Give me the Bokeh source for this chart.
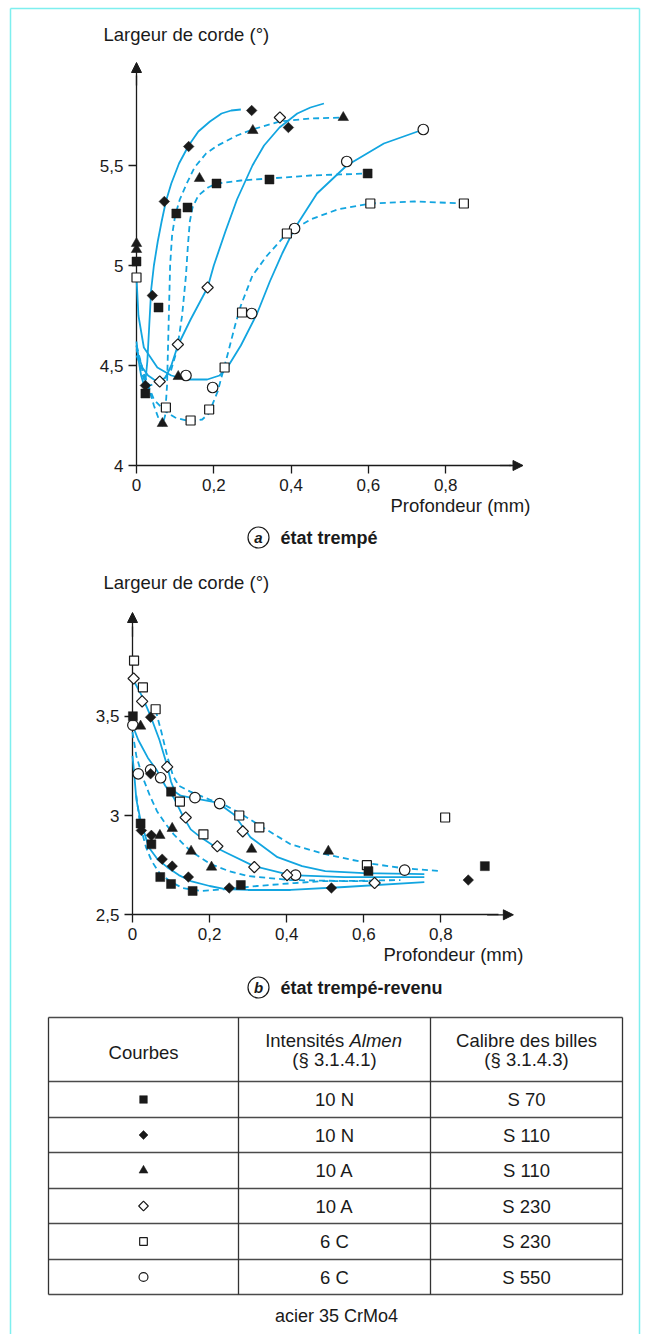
import math
from bokeh.plotting import figure
from bokeh.models import Range1d, LinearAxis, FixedTicker, Arrow, NormalHead, Label
from bokeh.core.properties import value
from bokeh.embed import file_html
from bokeh.resources import INLINE

W, H = 651, 1334
BLUE = "#12A5E0"
INK = "#1a1a1a"
FONT = "Liberation Sans"

# ---------------- (a) état trempé : markers ----------------
a_sq_x = [0, 0.023, 0.057, 0.103, 0.132, 0.207, 0.344, 0.598]
a_sq_y = [5.02, 4.36, 4.79, 5.26, 5.29, 5.41, 5.43, 5.46]
a_di_x = [0.023, 0.041, 0.072, 0.135, 0.298, 0.393]
a_di_y = [4.40, 4.85, 5.32, 5.595, 5.775, 5.69]
a_tr_x = [0, 0, 0.067, 0.108, 0.163, 0.301, 0.535]
a_tr_y = [5.11, 5.08, 4.21, 4.445, 5.435, 5.675, 5.74]
a_od_x = [0.06, 0.107, 0.184, 0.371]
a_od_y = [4.42, 4.605, 4.89, 5.74]
a_os_x = [0, 0.076, 0.14, 0.188, 0.228, 0.273, 0.389, 0.605, 0.847]
a_os_y = [4.94, 4.29, 4.225, 4.28, 4.49, 4.765, 5.16, 5.31, 5.31]
a_oc_x = [0.128, 0.197, 0.298, 0.409, 0.544, 0.742]
a_oc_y = [4.45, 4.39, 4.76, 5.185, 5.52, 5.68]

# ---------------- (a) curves ----------------
a_c_sq_x = [0, 0.01, 0.022, 0.035, 0.05, 0.07, 0.09, 0.105, 0.118, 0.128, 0.133, 0.138, 0.145, 0.16, 0.185, 0.207, 0.27, 0.344, 0.45, 0.6]
a_c_sq_y = [4.6, 4.48, 4.42, 4.4, 4.41, 4.43, 4.48, 4.58, 4.75, 4.95, 5.1, 5.22, 5.29, 5.35, 5.39, 5.41, 5.425, 5.435, 5.45, 5.46]
a_c_di_x = [0, 0.006, 0.012, 0.018, 0.023, 0.028, 0.033, 0.038, 0.045, 0.055, 0.065, 0.076, 0.09, 0.11, 0.135, 0.16, 0.19, 0.22, 0.245, 0.27]
a_c_di_y = [4.62, 4.52, 4.45, 4.41, 4.42, 4.52, 4.7, 4.88, 5.0, 5.12, 5.22, 5.32, 5.41, 5.51, 5.6, 5.67, 5.72, 5.76, 5.775, 5.78]
a_c_tr_x = [0, 0.015, 0.03, 0.045, 0.058, 0.067, 0.074, 0.079, 0.083, 0.087, 0.092, 0.1, 0.112, 0.13, 0.15, 0.18, 0.21, 0.26, 0.3, 0.37, 0.45, 0.535]
a_c_tr_y = [4.55, 4.48, 4.4, 4.3, 4.23, 4.2, 4.25, 4.4, 4.7, 5.0, 5.15, 5.25, 5.33, 5.41, 5.49, 5.56, 5.6, 5.65, 5.68, 5.72, 5.735, 5.74]
a_c_od_x = [0, 0.015, 0.03, 0.045, 0.06, 0.075, 0.09, 0.107, 0.14, 0.184, 0.2, 0.23, 0.26, 0.3, 0.33, 0.37, 0.416, 0.45, 0.485]
a_c_od_y = [4.58, 4.49, 4.45, 4.43, 4.42, 4.44, 4.5, 4.6, 4.73, 4.89, 5.0, 5.17, 5.33, 5.5, 5.6, 5.69, 5.76, 5.79, 5.81]
a_c_os_x = [0, 0.02, 0.045, 0.075, 0.1, 0.14, 0.17, 0.187, 0.21, 0.235, 0.255, 0.27, 0.3, 0.338, 0.389, 0.45, 0.52, 0.605, 0.72, 0.847]
a_c_os_y = [4.6, 4.45, 4.33, 4.27, 4.24, 4.22, 4.23, 4.26, 4.37, 4.55, 4.7, 4.8, 4.95, 5.05, 5.16, 5.23, 5.28, 5.31, 5.32, 5.31]
a_c_oc_x = [0, 0.005, 0.019, 0.054, 0.09, 0.131, 0.183, 0.215, 0.235, 0.27, 0.312, 0.345, 0.377, 0.409, 0.467, 0.544, 0.64, 0.742]
a_c_oc_y = [4.94, 4.75, 4.59, 4.49, 4.45, 4.43, 4.43, 4.45, 4.49, 4.6, 4.76, 4.92, 5.06, 5.185, 5.36, 5.5, 5.61, 5.68]

# ---------------- (b) état trempé-revenu : markers ----------------
b_sq_x = [0.001, 0.021, 0.049, 0.072, 0.1, 0.1, 0.156, 0.281, 0.612, 0.914]
b_sq_y = [3.50, 2.96, 2.855, 2.69, 2.655, 3.12, 2.62, 2.65, 2.72, 2.745]
b_di_x = [0.047, 0.047, 0.023, 0.049, 0.077, 0.103, 0.145, 0.251, 0.516, 0.871]
b_di_y = [3.495, 3.21, 2.925, 2.90, 2.78, 2.745, 2.69, 2.635, 2.635, 2.675]
b_tr_x = [0.021, 0.071, 0.103, 0.152, 0.205, 0.309, 0.508]
b_tr_y = [3.45, 2.90, 2.935, 2.82, 2.74, 2.83, 2.82]
b_od_x = [0.003, 0.025, 0.09, 0.138, 0.22, 0.286, 0.316, 0.401, 0.628]
b_od_y = [3.69, 3.575, 3.245, 2.99, 2.845, 2.92, 2.74, 2.70, 2.66]
b_os_x = [0.004, 0.027, 0.06, 0.123, 0.184, 0.277, 0.329, 0.608, 0.811]
b_os_y = [3.78, 3.645, 3.535, 3.07, 2.905, 3.0, 2.94, 2.75, 2.99]
b_oc_x = [0.001, 0.015, 0.047, 0.073, 0.162, 0.226, 0.423, 0.706]
b_oc_y = [3.455, 3.21, 3.23, 3.19, 3.09, 3.06, 2.70, 2.725]

# ---------------- (b) curves ----------------
b_c1_x = [0.06, 0.075, 0.09, 0.105, 0.12, 0.15, 0.2, 0.237, 0.28, 0.33, 0.41, 0.5, 0.61, 0.7, 0.8]
b_c1_y = [3.53, 3.42, 3.3, 3.2, 3.15, 3.12, 3.08, 3.055, 3.01, 2.95, 2.855, 2.805, 2.76, 2.735, 2.72]
b_c2_x = [0, 0.025, 0.047, 0.07, 0.09, 0.1, 0.11, 0.125, 0.151, 0.22, 0.263, 0.306, 0.376, 0.44, 0.5, 0.6, 0.757]
b_c2_y = [3.69, 3.6, 3.5, 3.38, 3.25, 3.17, 3.12, 3.1, 3.09, 3.065, 3.005, 2.89, 2.79, 2.745, 2.72, 2.71, 2.705]
b_c3_x = [0, 0.015, 0.04, 0.064, 0.085, 0.107, 0.13, 0.151, 0.177, 0.22, 0.246, 0.315, 0.41, 0.55, 0.757]
b_c3_y = [3.455, 3.38, 3.29, 3.225, 3.15, 3.09, 3.0, 2.93, 2.89, 2.835, 2.81, 2.745, 2.7, 2.69, 2.69]
b_c4_x = [0, 0.01, 0.025, 0.045, 0.064, 0.085, 0.107, 0.13, 0.151, 0.203, 0.25, 0.3, 0.41, 0.55, 0.695]
b_c4_y = [3.42, 3.3, 3.2, 3.1, 3.02, 2.96, 2.905, 2.86, 2.82, 2.755, 2.72, 2.695, 2.675, 2.67, 2.675]
b_c5_x = [0.01, 0.02, 0.035, 0.05, 0.07, 0.1, 0.13, 0.177, 0.25, 0.323, 0.42, 0.497, 0.63]
b_c5_y = [3.1, 2.95, 2.84, 2.77, 2.71, 2.665, 2.635, 2.62, 2.63, 2.645, 2.66, 2.67, 2.67]
b_c6_x = [0, 0.004, 0.01, 0.021, 0.042, 0.065, 0.09, 0.12, 0.151, 0.2, 0.237, 0.3, 0.41, 0.55, 0.757]
b_c6_y = [3.3, 3.22, 3.08, 2.975, 2.84, 2.78, 2.74, 2.7, 2.67, 2.645, 2.63, 2.625, 2.625, 2.64, 2.665]

# ---------------- ticks ----------------
a_xticks = [0, 0.2, 0.4, 0.6, 0.8]
a_xlabels = ["0", "0,2", "0,4", "0,6", "0,8"]
a_yticks = [4, 4.5, 5, 5.5]
a_ylabels = ["4", "4,5", "5", "5,5"]
b_xticks = [0, 0.2, 0.4, 0.6, 0.8]
b_xlabels = ["0", "0,2", "0,4", "0,6", "0,8"]
b_yticks = [2.5, 3, 3.5]
b_ylabels = ["2,5", "3", "3,5"]

# ---------------- table ----------------
courbes = ["sq", "di", "tr", "od", "os", "oc"]
intensites = ["10 N", "10 N", "10 A", "10 A", "6 C", "6 C"]
calibres = ["S 70", "S 110", "S 110", "S 230", "S 230", "S 550"]

# ======================================================
p = figure(width=W, height=H, output_backend="svg", toolbar_location=None,
           min_border=0, min_border_left=0, min_border_right=0,
           min_border_top=0, min_border_bottom=0,
           x_range=Range1d(-136 / 386.5, (W - 136) / 386.5),
           y_range=Range1d(4 - (H - 465) / 200.0, 4 + 465 / 200.0))
p.extra_x_ranges = {"bx": Range1d(-132 / 385.5, (W - 132) / 385.5), "pgx": Range1d(0, W)}
p.extra_y_ranges = {"by": Range1d(2.5 - (H - 914.3) / 198.6, 2.5 + 914.3 / 198.6),
                    "pgy": Range1d(H, 0)}
p.outline_line_color = None
p.xgrid.visible = False
p.ygrid.visible = False
p.title.visible = False
p.background_fill_color = "white"
p.border_fill_color = "white"


def style_axis(ax, ticks, labels):
    ax.ticker = FixedTicker(ticks=ticks)
    ax.major_label_overrides = dict(zip(ticks, labels))
    ax.axis_line_color = INK
    ax.axis_line_width = 1.3
    ax.major_tick_line_color = INK
    ax.major_tick_line_width = 1.3
    ax.major_tick_out = 8
    ax.major_tick_in = 0
    ax.minor_tick_line_color = None
    ax.major_label_text_font = FONT
    ax.major_label_text_font_size = "17px"
    ax.major_label_text_color = INK
    ax.major_label_standoff = 5
    ax.level = "underlay"


ax_a = p.xaxis[0]
ax_a.fixed_location = 4
ax_a.bounds = (0, 0.97)
style_axis(ax_a, a_xticks, a_xlabels)
ay_a = p.yaxis[0]
ay_a.fixed_location = 0
ay_a.bounds = (4, 5.95)
style_axis(ay_a, a_yticks, a_ylabels)

bx_ax = LinearAxis(x_range_name="bx", y_range_name="by", fixed_location=2.5, bounds=(0, 0.95))
style_axis(bx_ax, b_xticks, b_xlabels)
p.add_layout(bx_ax, "below")
by_ax = LinearAxis(x_range_name="bx", y_range_name="by", fixed_location=0, bounds=(2.5, 3.95))
style_axis(by_ax, b_yticks, b_ylabels)
p.add_layout(by_ax, "left")


def arrow(x0, y0, x1, y1, xr="default", yr="default"):
    p.add_layout(Arrow(end=NormalHead(size=10, fill_color=INK, line_color=INK, line_width=1),
                       x_start=x0, y_start=y0, x_end=x1, y_end=y1,
                       line_color=INK, line_width=1.3, x_range_name=xr, y_range_name=yr))


arrow(0, 5.9, 0, 6.015)
arrow(0.94, 4, 1.0, 4)
arrow(0, 3.9, 0, 4.022, "bx", "by")
arrow(0.92, 2.5, 0.988, 2.5, "bx", "by")


def curve(x, y, dashed, xr="default", yr="default"):
    kw = dict(line_color=BLUE, line_width=1.8, line_join="round",
              x_range_name=xr, y_range_name=yr)
    if dashed:
        kw["line_dash"] = "6 4"
    p.line(x, y, **kw)


curve(a_c_sq_x, a_c_sq_y, True)
curve(a_c_di_x, a_c_di_y, False)
curve(a_c_tr_x, a_c_tr_y, True)
curve(a_c_od_x, a_c_od_y, False)
curve(a_c_os_x, a_c_os_y, True)
curve(a_c_oc_x, a_c_oc_y, False)

curve(b_c1_x, b_c1_y, True, "bx", "by")
curve(b_c2_x, b_c2_y, False, "bx", "by")
curve(b_c3_x, b_c3_y, False, "bx", "by")
curve(b_c4_x, b_c4_y, True, "bx", "by")
curve(b_c5_x, b_c5_y, True, "bx", "by")
curve(b_c6_x, b_c6_y, False, "bx", "by")

MSTYLE = {
    "sq": dict(marker="square", size=9, angle=0, fill_color=INK, line_color=INK, line_width=0.5),
    "di": dict(marker="square", size=7.5, angle=math.pi / 4, fill_color=INK, line_color=INK, line_width=0.5),
    "tr": dict(marker="triangle", size=10.5, angle=0, fill_color=INK, line_color=INK, line_width=0.5),
    "od": dict(marker="square", size=8, angle=math.pi / 4, fill_color="white", line_color=INK, line_width=1.2),
    "os": dict(marker="square", size=9, angle=0, fill_color="white", line_color=INK, line_width=1.2),
    "oc": dict(marker="circle", size=10.5, angle=0, fill_color="white", line_color=INK, line_width=1.2),
}


def marks(x, y, kind, xr="default", yr="default", scale=1.0):
    st = dict(MSTYLE[kind])
    st["size"] = st["size"] * scale
    p.scatter(x, y, x_range_name=xr, y_range_name=yr, **st)


marks(a_oc_x, a_oc_y, "oc")
marks(a_os_x, a_os_y, "os")
marks(a_od_x, a_od_y, "od")
marks(a_sq_x, a_sq_y, "sq")
marks(a_di_x, a_di_y, "di")
marks(a_tr_x, a_tr_y, "tr")

marks(b_oc_x, b_oc_y, "oc", "bx", "by")
marks(b_os_x, b_os_y, "os", "bx", "by")
marks(b_od_x, b_od_y, "od", "bx", "by")
marks(b_sq_x, b_sq_y, "sq", "bx", "by")
marks(b_di_x, b_di_y, "di", "bx", "by")
marks(b_tr_x, b_tr_y, "tr", "bx", "by")


def label(x, y, text, size="18px", align="left", style="normal", color=INK):
    p.add_layout(Label(x=x, y=y, x_range_name="pgx", y_range_name="pgy", text=text,
                       text_font=FONT, text_font_size=size, text_align=align,
                       text_baseline="middle", text_font_style=style, text_color=color))


label(103, 34, "Largeur de corde (°)", size="18.5px")
label(390, 505, "Profondeur (mm)", size="18.5px")
label(103, 582, "Largeur de corde (°)", size="18.5px")
label(383, 954, "Profondeur (mm)", size="18.5px")

for cy, letter, cap in [(537, "a", "état trempé"), (987, "b", "état trempé-revenu")]:
    p.scatter([258], [cy], marker="circle", size=21, fill_color="white", line_color=INK,
              line_width=1.2, x_range_name="pgx", y_range_name="pgy")
    label(258, cy, letter, size="15px", align="center", style="bold italic")
    label(280, cy, cap, size="18px", style="bold")

FRAME = "#7EEFEF"
p.segment(x0=[10, 10, 639], y0=[8, 8, 8], x1=[10, 639, 639], y1=[H, 8, H],
          line_color=FRAME, line_width=1.5, x_range_name="pgx", y_range_name="pgy")

tbl_x = [48, 238, 430, 622]
tbl_y = [1017, 1081, 1117, 1152, 1188, 1223, 1259, 1294]
p.segment(x0=[tbl_x[0]] * len(tbl_y), y0=tbl_y, x1=[tbl_x[-1]] * len(tbl_y), y1=tbl_y,
          line_color="#4a4a4a", line_width=1.4, x_range_name="pgx", y_range_name="pgy")
p.segment(x0=tbl_x, y0=[tbl_y[0]] * len(tbl_x), x1=tbl_x, y1=[tbl_y[-1]] * len(tbl_x),
          line_color="#333333", line_width=1.3, x_range_name="pgx", y_range_name="pgy")

col_c = [(tbl_x[i] + tbl_x[i + 1]) / 2 for i in range(3)]
row_c = [(tbl_y[i] + tbl_y[i + 1]) / 2 for i in range(1, len(tbl_y) - 1)]

TS = "18.5px"
label(col_c[0], 1052, "Courbes", size=TS, align="center")
label(col_c[1] + 15, 1040, "Intensités ", size=TS, align="right")
label(col_c[1] + 15, 1040, "Almen", size=TS, align="left", style="italic")
label(col_c[1], 1059, "(§ 3.1.4.1)", size=TS, align="center")
label(col_c[2], 1040, "Calibre des billes", size=TS, align="center")
label(col_c[2], 1059, "(§ 3.1.4.3)", size=TS, align="center")

for kind, yy in zip(courbes, row_c):
    marks([col_c[0]], [yy], kind, "pgx", "pgy", scale=0.85)

p.text(x=[col_c[1]] * len(intensites), y=row_c, text=intensites, text_font=value(FONT),
       text_font_size=TS, text_align="center", text_baseline="middle", text_color=INK,
       x_range_name="pgx", y_range_name="pgy")
p.text(x=[col_c[2]] * len(calibres), y=row_c, text=calibres, text_font=value(FONT),
       text_font_size=TS, text_align="center", text_baseline="middle", text_color=INK,
       x_range_name="pgx", y_range_name="pgy")

label(336, 1315, "acier 35 CrMo4", size="18px", align="center")

open("out.html", "w").write(file_html(p, INLINE))
